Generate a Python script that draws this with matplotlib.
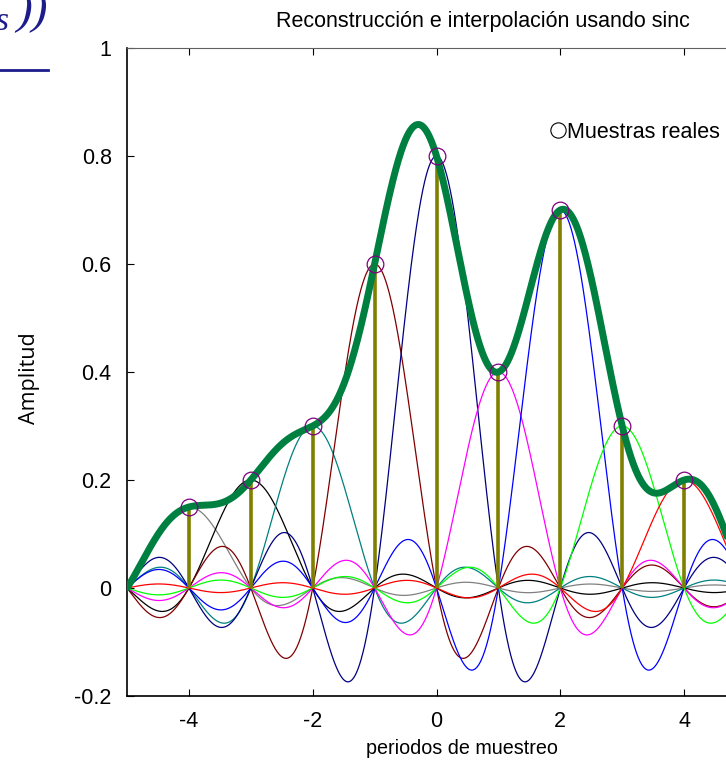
import numpy as np
import matplotlib
matplotlib.use("Agg")
import matplotlib.pyplot as plt

plt.rcParams['font.family'] = ['Liberation Sans', 'DejaVu Sans']

# sample instants (in sampling periods) and sample values
n_samples = [-4, -3, -2, -1, 0, 1, 2, 3, 4]
values = [0.15, 0.2, 0.3, 0.6, 0.8, 0.4, 0.7, 0.3, 0.2]
sinc_colors = ['#808080', '#000000', '#008080', '#800000', '#000080',
               '#ff00ff', '#0000ff', '#00ff00', '#ff0000']

title = "Reconstrucción e interpolación usando sinc"
xlabel = "periodos de muestreo"
ylabel = "Amplitud"
legend_label = "Muestras reales"
xticks = [-4, -2, 0, 2, 4]
yticks = [-0.2, 0, 0.2, 0.4, 0.6, 0.8, 1]

W, H = 726, 761
fig = plt.figure(figsize=(W / 100, H / 100), dpi=100)

# axes runs past the right edge of the picture (cropped figure)
ax_l, ax_r, ax_t, ax_b = 127, 746, 48, 696
ax = fig.add_axes([ax_l / W, 1 - ax_b / H, (ax_r - ax_l) / W, (ax_b - ax_t) / H])

t = np.linspace(-5, 5, 2001)
total = np.zeros_like(t)
for n, v, c in zip(n_samples, values, sinc_colors):
    s = v * np.sinc(t - n)
    total += s
    ax.plot(t, s, color=c, lw=0.9, zorder=2)

ax.vlines(n_samples, 0, values, color='#808000', lw=2.6, zorder=3)
ax.plot(t, total, color='#008040', lw=5, zorder=4, solid_capstyle='round')
ax.plot(n_samples, values, 'o', mfc='none', mec='#800080', mew=0.9, ms=12, zorder=5)

ax.set_xlim(-5, 5)
ax.set_ylim(-0.2, 1)
ax.set_xticks(xticks)
ax.set_xticklabels([f"{v:g}" for v in xticks])
ax.set_yticks(yticks)
ax.set_yticklabels([f"{v:g}" for v in yticks])
ax.tick_params(direction='in', top=True, right=True, labelsize=15.5, length=5)
ax.tick_params(axis='y', pad=11)
ax.tick_params(axis='x', pad=11)
ax.spines['top'].set_color('#606060')
for sp in ['left', 'bottom']:
    ax.spines[sp].set_linewidth(1.2)

# legend entry (box is off the picture)
ax.plot([558 / W], [1 - 130 / H], 'o', mfc='none', mec='k', mew=0.8, ms=11,
        transform=fig.transFigure, clip_on=False)
fig.text(567 / W, 1 - 133 / H, legend_label, fontsize=15.5, ha='left', va='center')

fig.text(483 / W, 1 - 22 / H, title, fontsize=15.5, ha='center', va='center')
fig.text(462 / W, 1 - 748 / H, xlabel, fontsize=14.2, ha='center', va='center')
fig.text(30 / W, 1 - 378 / H, ylabel, fontsize=15.5, ha='center', va='center',
         rotation=90, family=['Open Sans', 'DejaVu Sans'])

# fragment of an equation above the chart (cropped)
fig.text(-4 / W, 1 - 22 / H, 's', fontsize=24, style='italic', color='#1c1c8c',
         family=['Liberation Serif'], ha='left', va='center')
fig.text(16 / W, 1 - 12 / H, '))', fontsize=34, style='italic', color='#1c1c8c',
         family=['Liberation Serif'], ha='left', va='center')
fig.add_artist(plt.Line2D([0, 48 / W], [1 - 70 / H, 1 - 70 / H], color='#1c1c8c', lw=2,
                          transform=fig.transFigure))

fig.savefig('out.png', dpi=100)
